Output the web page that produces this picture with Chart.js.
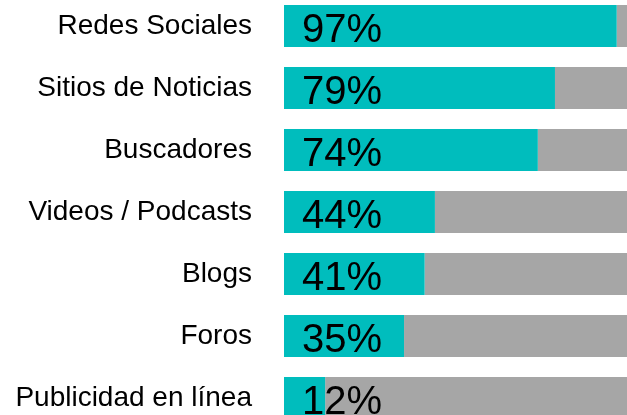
<!DOCTYPE html>
<html>
<head>
<meta charset="utf-8">
<script src="https://cdn.jsdelivr.net/npm/chart.js@4"></script>
<style>
  html, body { margin: 0; padding: 0; background: #fff; overflow: hidden; }
  #myChart { position: absolute; left: 0; top: -5px; }
</style>
</head>
<body>
<canvas id="myChart" width="627" height="434"></canvas>
<script>
const categorias = ['Redes Sociales', 'Sitios de Noticias', 'Buscadores', 'Videos / Podcasts', 'Blogs', 'Foros', 'Publicidad en línea'];
const usan = [97, 79, 74, 44, 41, 35, 12];
const resto = [3, 21, 26, 56, 59, 65, 88];

const ctx = document.getElementById('myChart');

// etiquetas de porcentaje dentro de las barras
const etiquetas = {
  id: 'etiquetas',
  afterDatasetsDraw(chart) {
    const c = chart.ctx;
    const x = chart.scales.x.getPixelForValue(0) + 18;
    c.save();
    c.font = '40px "Liberation Sans"';
    c.fillStyle = '#000';
    c.textAlign = 'left';
    c.textBaseline = 'alphabetic';
    usan.forEach((v, i) => {
      const y = chart.scales.y.getPixelForValue(i) + 16;
      c.fillText(v + '%', x, y);
    });
    c.restore();
  }
};

const myChart = new Chart(ctx, {
  type: 'bar',
  data: {
    labels: categorias,
    datasets: [{
      label: 'Usan',
      data: usan,
      backgroundColor: '#00BDBD',
      barPercentage: 0.677,
      categoryPercentage: 1
    },
    {
      label: 'Resto',
      data: resto,
      backgroundColor: '#A6A6A6',
      barPercentage: 0.677,
      categoryPercentage: 1
    }]
  },
  options: {
    indexAxis: 'y',
    responsive: false,
    animation: false,
    layout: { padding: 0 },
    plugins: {
      legend: { display: false },
      tooltip: { enabled: false }
    },
    scales: {
      x: {
        stacked: true,
        min: 0,
        max: 100,
        display: false
      },
      y: {
        stacked: true,
        grid: { display: false, drawTicks: false },
        border: { display: false },
        ticks: {
          color: '#000',
          padding: 32,
          font: { family: '"Liberation Sans"', size: 28 }
        },
        afterFit(scale) {
          scale.width = 284;
          scale.paddingTop = 0;
          scale.paddingBottom = 0;
        }
      }
    }
  },
  plugins: [etiquetas]
});
</script>
</body>
</html>
